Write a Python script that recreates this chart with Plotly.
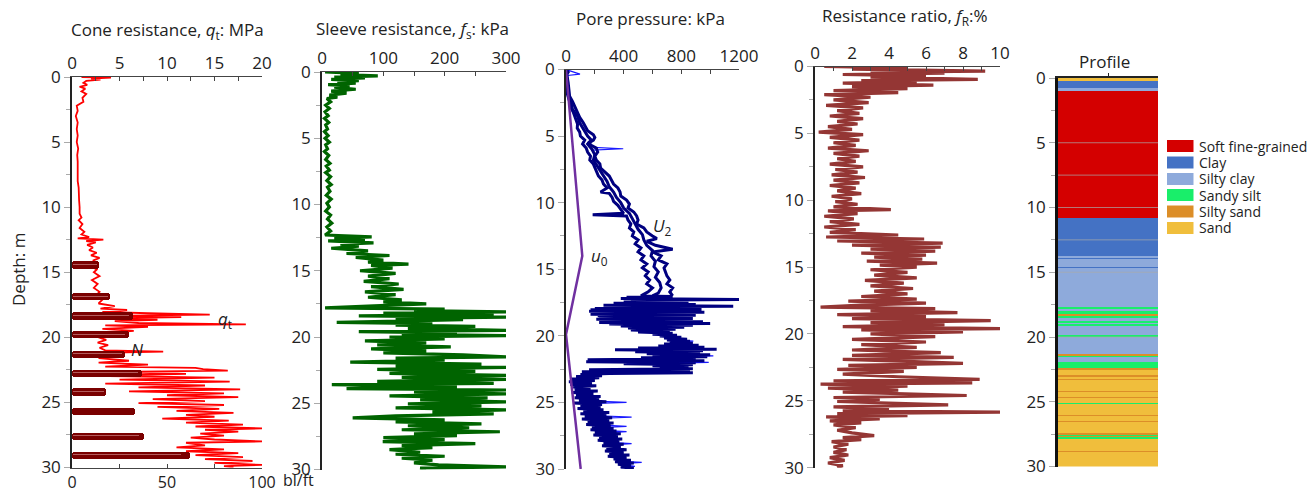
import plotly.graph_objects as go

W, H = 1309, 492

# ---------------- data ----------------
qt_depth = [0.0,0.05,0.12,0.2,0.3,0.45,0.6,0.75,0.9,1.1,1.3,1.6,1.9,2.2,2.6,3.0,3.5,4.0,4.5,5.0,5.5,6.0,6.5,7.0,7.5,8.0,8.5,9.0,9.5,10.0,
            10.5,10.8,11.0,11.3,11.6,11.9,12.1,12.3,12.4,12.5,12.6,12.7,12.9,13.1,13.3,13.5,13.7,13.9,14.1,14.3,14.5,14.8,15.0,15.3,15.6,15.9,
            16.2,16.5,16.8,17.1,17.4,17.6,17.8,17.9,18.05,18.15,18.25,18.35,18.45,18.55,18.65,18.75,18.9,19.0,19.08,19.2,19.35,19.5,19.7,19.85,
            20.0,20.2,20.4,20.6,20.8,21.0,21.1,21.2,21.4,21.6,21.8,21.95,22.1,22.25,22.35,22.45,22.55,22.65,22.8,22.95,23.1,23.25,23.4,23.55,
            23.7,23.85,24.0,24.15,24.3,24.45,24.6,24.75,24.9,25.05,25.2,25.35,25.5,25.65,25.8,25.95,26.1,26.25,26.4,26.55,26.7,26.85,27.0,27.1,
            27.25,27.4,27.55,27.7,27.85,28.0,28.1,28.3,28.45,28.6,28.75,28.9,29.05,29.2,29.35,29.5,29.65,29.8,29.9,30.0]
qt_mpa = [1.0,4.1,2.0,3.0,1.5,1.2,1.6,0.8,1.4,1.0,1.5,1.1,1.2,0.5,0.6,0.4,0.6,0.5,0.6,0.5,0.65,0.55,0.6,0.6,0.65,0.6,0.7,0.7,0.75,0.8,
          0.8,1.0,0.7,1.1,0.8,1.3,1.0,1.8,0.6,3.3,1.5,2.5,1.6,2.2,1.8,2.6,2.0,2.9,2.2,2.8,2.0,2.6,2.3,2.9,2.1,2.7,
          2.3,2.9,2.5,3.2,2.8,4.5,3.0,5.8,3.2,8.0,14.5,4.0,11.5,3.5,9.0,4.5,7.0,18.3,3.5,8.0,3.2,6.5,3.0,5.0,
          2.8,3.6,2.7,3.8,2.9,3.5,9.6,3.0,4.0,2.8,6.0,2.8,8.0,3.5,13.0,13.8,16.4,4.5,12.0,2.0,15.0,5.0,16.6,3.5,
          14.0,7.0,17.7,6.0,16.0,10.0,17.5,8.5,14.0,7.0,16.0,9.0,15.5,11.0,17.0,12.0,15.0,9.5,16.5,12.0,18.0,13.0,20.0,14.0,
          17.5,13.5,16.0,12.5,15.0,20.0,12.0,14.0,11.0,16.0,12.0,17.5,13.0,18.0,14.0,19.0,15.0,20.0,16.0,17.0]

n_depth = [14.45, 16.87, 18.36, 19.8, 21.3, 22.76, 24.2, 25.7, 27.6, 29.06]
n_blows = [14, 20, 32, 30, 28, 37, 18, 33, 38, 62]

fs_depth = [0.0,0.1,0.2,0.3,0.38,0.45,0.55,0.65,0.75,0.85,0.95,1.05,1.15,1.3,1.45,1.6,1.75,1.9,
            2.0,2.25,2.5,2.75,3.0,3.3,3.5,3.8,4.0,4.3,4.5,4.8,5.0,5.3,5.5,5.8,6.0,6.3,6.6,6.9,7.1,7.4,7.6,7.9,8.2,8.5,8.7,9.0,
            9.3,9.6,9.9,10.2,10.5,10.8,11.1,11.4,11.7,12.0,12.3,
            12.45,12.55,12.65,12.75,12.9,13.0,13.15,13.3,13.5,13.7,13.85,14.0,
            14.2,14.35,14.5,14.6,14.8,15.0,15.2,15.4,15.6,15.8,16.0,16.2,16.4,16.6,16.8,17.0,17.2,17.35,17.5,17.65,17.8,17.9,18.0,18.1,18.2,
            18.3,18.4,18.5,18.6,18.7,18.8,18.9,19.0,19.1,19.2,19.35,19.5,19.6,19.7,19.8,19.9,20.0,20.15,20.3,20.45,20.6,20.75,20.9,21.05,
            21.2,21.35,21.5,21.6,21.75,21.9,22.05,22.2,22.3,22.45,22.6,22.75,22.9,23.05,23.2,23.35,23.5,23.6,23.75,23.9,24.0,24.15,24.3,
            24.45,24.6,24.75,24.9,25.05,25.2,25.35,25.5,25.65,25.8,25.95,26.1,26.25,26.4,26.55,26.7,26.85,27.0,27.15,27.3,27.45,27.6,
            27.75,27.9,28.05,28.2,28.35,28.5,28.7,28.85,29.0,29.15,29.3,29.5,29.65,29.8,29.9,30.0]
fs_kpa = [5,60,30,91,20,70,15,60,25,55,10,45,20,55,15,40,12,25,
          8,14,6,12,5,10,4,11,6,9,4,10,5,12,6,9,4,11,6,13,7,12,6,14,8,15,9,13,
          7,15,8,12,6,14,9,16,8,14,5,
          81,20,70,10,84,30,60,15,75,40,110,55,
          100,75,141,80,115,62,120,75,110,68,125,80,133,70,120,75,130,100,170,85,5,200,150,300,100,
          280,60,300,120,230,90,24,180,120,250,140,300,60,220,130,300,110,200,70,170,90,210,80,170,
          100,230,300,120,200,46,260,120,300,90,250,110,300,130,300,90,280,16,220,40,300,150,300,
          110,270,160,300,140,260,120,300,180,280,120,50,200,120,260,140,240,130,290,150,220,100,
          200,99,250,130,180,110,160,120,200,130,180,150,190,300,160,170]

# Pore pressure u2 (kPa): main navy trace, depth/value pairs
u2_main = [(0.0,0),(0.2,15),(0.4,3),(0.7,8),(1.0,5),(1.4,10),(1.8,8),(2.0,12),(2.3,22),(2.6,30),(2.9,35),(3.2,50),(3.5,62),
           (3.8,70),(4.1,80),(4.4,78),(4.7,95),(5.0,100),(5.3,130),(5.6,115),(5.9,140),(6.2,150),(6.5,170),(6.8,165),(7.1,190),
           (7.4,200),(7.7,215),(8.0,225),(8.3,250),(8.6,260),(8.9,285),(9.2,240),(9.3,300),(9.6,320),(9.9,330),(10.2,360),
           (10.5,380),(10.8,400),(10.9,185),(11.0,420),(11.3,430),(11.6,450),(11.9,440),(12.2,470),(12.5,460),(12.8,500),
           (13.1,480),(13.4,520),(13.7,500),(14.0,540),(14.3,520),(14.6,560),(14.9,530),(15.2,570),(15.5,550),(15.8,580),
           (16.1,560),(16.4,600),(16.7,570),(17.0,520),(17.05,740),(17.1,420),(17.15,700),(17.2,380),(17.28,1200),(17.32,450),
           (17.4,780),(17.45,400),(17.5,850),(17.55,330),(17.65,900),(17.7,260),(17.78,1160),(17.82,300),(17.9,900),(17.95,200),
           (18.0,940),(18.05,170),(18.1,880),(18.15,160),(18.22,960),(18.27,200),(18.33,800),(18.38,170),(18.45,900),(18.5,220),
           (18.57,700),(18.62,230),(18.7,880),(18.75,210),(18.82,820),(18.88,250),(18.95,950),(19.0,230),(19.07,1000),(19.12,300),
           (19.2,880),(19.27,380),(19.35,820),(19.42,430),(19.5,760),(19.57,450),(19.65,720),(19.72,500),(19.8,740),(19.88,600),
           (19.95,770),(20.02,650),(20.1,800),(20.17,680),(20.25,840),(20.32,700),(20.4,860),(20.47,720),(20.55,880),(20.62,680),
           (20.7,920),(20.77,640),(20.85,960),(20.92,500),(21.0,1045),(21.05,340),(21.12,950),(21.2,480),(21.28,930),(21.35,560),
           (21.42,1000),(21.5,600),(21.57,980),(21.65,520),(21.72,900),(21.8,150),(21.87,960),(21.95,140),(22.02,900),(22.1,400),
           (22.18,880),(22.25,600),(22.32,850),(22.4,650),(22.47,880),(22.55,160),(22.62,860),(22.7,110),(22.77,880),(22.82,300),
           (22.9,100),(23.0,250),(23.05,70),(23.15,230),(23.25,40),(23.35,200),(23.45,20),(23.55,180),(23.65,30),(23.75,210),
           (23.85,50),(23.95,170),(24.05,60),(24.15,220),(24.25,40),(24.35,190),(24.45,70),(24.55,240),(24.65,60),(24.75,230),
           (24.85,90),(24.95,280),(25.05,50),(25.15,250),(25.25,100),(25.35,240),(25.45,80),(25.55,260),(25.65,120),(25.75,300),
           (25.85,100),(25.95,280),(26.05,130),(26.15,320),(26.25,110),(26.35,300),(26.45,150),(26.55,330),(26.65,140),(26.75,310),
           (26.85,180),(26.95,330),(27.05,170),(27.15,350),(27.25,200),(27.35,380),(27.45,190),(27.55,360),(27.65,230),(27.75,390),
           (27.85,220),(27.95,370),(28.05,260),(28.15,400),(28.25,250),(28.35,380),(28.45,280),(28.55,420),(28.65,270),(28.75,400),
           (28.85,300),(28.95,440),(29.05,290),(29.15,420),(29.25,330),(29.35,450),(29.45,340),(29.55,470),(29.65,360),(29.75,450),
           (29.85,380),(29.95,470),(30.0,420)]
# other strands of the u2 band (0-17 m)
u2_band = [(0.0,0),(0.5,10),(1.0,15),(1.5,20),(2.0,25),(2.4,45),(2.8,60),(3.2,75),(3.6,95),(4.0,120),(4.3,135),(4.6,150),
           (4.9,190),(5.1,200),(5.3,190),(5.5,160),(5.7,175),(5.9,210),(6.2,220),(6.5,200),(6.8,210),(7.1,235),(7.4,240),
           (7.7,270),(8.0,300),(8.3,315),(8.6,330),(8.9,360),(9.2,375),(9.5,380),(9.8,420),(10.1,440),(10.4,430),(10.7,470),
           (11.0,490),(11.3,500),(11.6,490),(11.9,540),(12.2,560),(12.5,600),(12.7,630),(12.9,560),(13.2,620),(13.5,740),
           (13.7,600),(14.0,660),(14.3,640),(14.6,700),(14.9,680),(15.2,690),(15.5,700),(15.8,720),(16.1,700),(16.4,740),
           (16.7,720),(17.0,740)]
u2_mid = [(2.0,15),(2.5,35),(3.0,45),(3.5,80),(4.0,95),(4.5,120),(5.0,150),(5.3,175),(5.6,150),(6.0,180),(6.4,200),
          (6.8,190),(7.2,215),(7.6,235),(8.0,265),(8.4,285),(8.8,300),(9.2,330),(9.6,350),(10.0,380),(10.4,400),(10.8,440),
          (11.2,460),(11.6,480),(12.0,500),(12.4,530),(12.8,540),(13.2,560),(13.6,600),(14.0,590),(14.4,620),(14.8,610),
          (15.2,640),(15.6,620),(16.0,650),(16.4,660),(16.8,640),(17.0,600)]
u2_main_depth = [p[0] for p in u2_main]
u2_main_kpa = [p[1] for p in u2_main]
u2_band_depth = [p[0] for p in u2_band]
u2_band_kpa = [p[1] for p in u2_band]
u2_mid_depth = [p[0] for p in u2_mid]
u2_mid_kpa = [p[1] for p in u2_mid]

# thin blue spikes (segments separated by None)
u2thin_depth = [0.0,0.35,0.45,None,5.85,5.95,6.05,None,20.3,20.4,20.5,None,21.4,21.5,21.6,None,21.9,22.0,22.1,None,
                24.9,25.0,25.1,None,26.0,26.1,26.2,None,26.7,26.8,26.9,None,27.1,27.2,27.3,None,28.0,28.1,28.2,None,
                28.5,28.6,28.7,None,29.4,29.5,29.6,None,29.7,29.8,29.9]
u2thin_kpa = [0,97,10,None,190,397,180,None,720,883,720,None,650,1022,600,None,500,990,420,None,
              200,420,150,None,230,455,200,None,260,420,230,None,250,420,240,None,300,455,280,None,
              300,365,320,None,360,525,380,None,420,478,380]

u0_depth = [0, 14.0, 19.9, 30.0]
u0_kpa = [0, 113, 0, 102]

fr_depth = [0.0,0.1,0.2,0.34,0.42,0.5,0.6,0.7,0.8,0.96,1.05,1.15,1.25,1.4,1.5,1.65,1.8,1.95,2.1,2.3,2.5,2.7,2.9,3.1,3.3,3.5,3.7,
            3.9,4.1,4.3,4.5,4.7,4.9,5.1,5.3,5.5,5.7,5.9,6.1,6.3,6.5,6.7,6.9,7.1,7.3,7.5,7.7,7.9,8.1,8.3,8.5,8.7,8.9,9.1,9.3,9.5,
            9.7,9.9,10.1,10.3,10.5,10.7,10.8,11.0,11.2,11.4,11.6,11.8,12.0,12.2,12.4,12.6,12.75,12.9,13.05,13.2,13.35,13.5,13.65,
            13.8,13.95,14.1,14.25,14.4,14.55,14.7,14.85,15.0,15.2,15.4,15.6,15.8,16.0,16.2,16.4,16.6,16.8,17.0,17.2,17.4,17.55,
            17.7,17.85,18.0,18.1,18.25,18.4,18.55,18.7,18.85,19.0,19.15,19.3,19.45,19.6,19.7,19.85,20.0,20.2,20.4,20.6,20.8,21.0,
            21.2,21.4,21.6,21.75,21.9,22.05,22.2,22.35,22.5,22.65,22.8,23.0,23.2,23.4,23.5,23.65,23.75,23.9,24.05,24.2,24.35,24.6,
            24.75,24.9,25.05,25.3,25.45,25.6,25.75,25.85,25.95,26.1,26.2,26.35,26.5,26.65,26.8,27.0,27.2,27.4,27.6,27.75,27.9,28.05,
            28.25,28.45,28.65,28.85,29.05,29.25,29.45,29.65,29.85,30.0]
fr_pct = [0.5,5.0,2.0,9.2,3.0,7.0,1.5,6.0,3.0,8.8,2.5,5.5,1.5,6.4,2.0,5.0,1.0,4.5,0.5,3.0,1.0,2.9,0.6,2.6,1.2,2.4,0.8,
          2.6,1.2,2.3,0.7,2.0,0.2,2.6,0.8,2.4,1.0,2.2,0.7,2.9,1.0,2.4,1.2,2.2,0.8,2.6,1.1,2.3,0.9,2.7,1.0,2.4,0.8,2.2,1.2,2.5,
          0.9,2.0,1.1,2.3,1.0,4.1,0.7,2.3,0.5,2.1,0.8,2.4,0.5,2.2,0.8,4.5,0.6,5.9,1.2,6.9,2.0,6.8,3.0,
          6.5,2.5,6.0,3.2,5.8,2.8,6.6,3.5,5.5,3.0,5.0,3.2,5.5,2.7,4.8,3.0,5.3,3.2,5.0,2.5,5.5,1.8,
          6.0,2.5,0.3,6.5,3.0,7.7,1.2,6.0,2.0,9.5,3.0,7.0,1.5,10.0,2.5,8.0,3.0,6.5,2.0,6.0,2.5,5.5,
          2.0,6.8,2.0,7.5,1.5,5.0,8.0,1.8,5.5,1.2,4.8,1.5,4.5,8.9,1.0,8.5,0.3,5.0,0.7,4.5,1.5,8.2,
          1.0,3.5,1.2,7.2,1.0,4.0,1.5,10.0,1.2,5.0,0.6,3.5,0.8,2.5,1.0,2.2,1.2,2.0,3.2,1.5,2.5,0.9,
          1.8,1.0,1.7,1.0,1.8,0.8,1.6,0.7,1.5,1.2]

soil_names = ["Soft fine-grained", "Clay", "Silty clay", "Sandy silt", "Silty sand", "Sand"]
soil_colors = ["#d40000", "#4472c4", "#8eaadb", "#19ee6a", "#dc8e28", "#f0be3c"]

layer_top = [0.0,0.2,0.8,0.98,10.8,13.8,13.9,14.0,14.6,14.7,17.7,17.8,17.97,18.25,18.35,18.45,18.5,18.8,18.85,19.05,19.15,19.9,
             19.95,21.35,21.42,21.5,21.95,22.4,22.55,22.75,22.85,22.95,23.1,23.2,23.35,24.2,24.27,24.6,24.7,25.1,25.2,25.85,25.92,
             26.0,26.07,26.5,26.6,27.4,27.55,27.65,27.72,27.9,28.8,28.87]
layer_bottom = layer_top[1:] + [30.0]
layer_soil = ["Sand","Clay","Silty clay","Soft fine-grained","Clay","Silty clay","Clay","Silty clay","Clay","Silty clay",
              "Sandy silt","Silty clay","Sandy silt","Silty sand","Silty clay","Sandy silt","Silty clay","Sandy silt","Silty clay",
              "Sandy silt","Silty clay","Sandy silt","Silty clay","Silty sand","Sandy silt","Silty clay","Sandy silt","Silty sand",
              "Sand","Silty sand","Sand","Silty sand","Sand","Silty sand","Sand","Silty sand","Sand","Silty sand","Sand","Sandy silt",
              "Sand","Silty sand","Sand","Silty sand","Sand","Silty sand","Sand","Silty sand","Sandy silt","Silty sand","Sandy silt",
              "Sand","Silty sand","Sand"]
profile_marks = [5, 7.5, 10, 12.5, 15, 20]

# ---------------- helpers ----------------
def xd(a, b):
    return [a / W, b / W]

def yd(top, bottom):
    return [1 - bottom / H, 1 - top / H]

FONT = "Open Sans, Noto Sans, sans-serif"
TICKF = dict(family=FONT, size=17, color="#222")

fig = go.Figure()

# Panel 1: cone resistance + N
fig.add_trace(go.Scatter(x=qt_mpa, y=qt_depth, mode="lines", line=dict(color="#ff0000", width=1.8),
                         xaxis="x", yaxis="y"))
fig.add_trace(go.Bar(x=n_blows, y=n_depth, orientation="h", width=0.56, base=0,
                     marker=dict(color="#7a0000", cornerradius=3, line=dict(width=0)),
                     xaxis="x2", yaxis="y"))
fig.add_trace(go.Bar(x=[v * 0.92 for v in n_blows], y=[d - 0.04 for d in n_depth], orientation="h", width=0.07, base=0.5,
                     marker=dict(color="rgba(205,130,130,0.7)", line=dict(width=0)),
                     xaxis="x2", yaxis="y"))

# Panel 2: sleeve
fig.add_trace(go.Scatter(x=fs_kpa, y=fs_depth, mode="lines", line=dict(color="#006400", width=3.2),
                         xaxis="x3", yaxis="y2"))

# Panel 3: pore pressure
fig.add_trace(go.Scatter(x=u2thin_kpa, y=u2thin_depth, mode="lines", line=dict(color="#1a1aff", width=1.2),
                         connectgaps=False, xaxis="x4", yaxis="y3"))
for dd, vv in ((u2_band_depth, u2_band_kpa), (u2_mid_depth, u2_mid_kpa), (u2_main_depth, u2_main_kpa)):
    fig.add_trace(go.Scatter(x=vv, y=dd, mode="lines", line=dict(color="#000080", width=3),
                             xaxis="x4", yaxis="y3"))
fig.add_trace(go.Scatter(x=u0_kpa, y=u0_depth, mode="lines", line=dict(color="#7030a0", width=2.5),
                         xaxis="x4", yaxis="y3"))

# Panel 4: friction ratio
fig.add_trace(go.Scatter(x=fr_pct, y=fr_depth, mode="lines", line=dict(color="#943634", width=3.2),
                         xaxis="x5", yaxis="y4"))

# Panel 5: profile
for name, col in zip(soil_names, soil_colors):
    tops = [t for t, s in zip(layer_top, layer_soil) if s == name]
    thick = [b - t for t, b, s in zip(layer_top, layer_bottom, layer_soil) if s == name]
    fig.add_trace(go.Bar(x=[0.5] * len(tops), y=thick, base=tops, width=1.0, name=name,
                         marker=dict(color=col, line=dict(width=0)), xaxis="x6", yaxis="y5"))

common_x = dict(showgrid=False, zeroline=False, showline=True, linecolor="#444", linewidth=1, automargin=False,
                ticks="inside", ticklen=4, tickcolor="#444", tickfont=TICKF, side="top", fixedrange=True)
common_y = dict(showgrid=False, zeroline=False, showline=True, linecolor="#222", linewidth=1.5, automargin=False,
                range=[30, 0], tickvals=[0, 5, 10, 15, 20, 25, 30], ticks="outside", ticklen=6, tickcolor="#aaa",
                minor=dict(dtick=2.5, ticks="outside", ticklen=4, tickcolor="#aaa"),
                tickfont=TICKF, fixedrange=True)

P1 = (72, 262, 77, 467.5)
P2 = (322, 506, 72, 469.5)
P3 = (566, 739, 69.5, 469)
P4 = (815, 1000, 66.5, 467.7)
P5 = (1058, 1158, 78, 466.5)

fig.update_layout(
    width=W, height=H, margin=dict(l=0, r=0, t=0, b=0, pad=0, autoexpand=False),
    paper_bgcolor="white", plot_bgcolor="rgba(0,0,0,0)",
    showlegend=False, barmode="overlay", bargap=0,
    font=dict(family=FONT, size=17, color="#222"),
    xaxis=dict(**common_x, domain=xd(P1[0], P1[1]), anchor="y", range=[0, 20],
               tickvals=[0, 5, 10, 15, 20], minor=dict(dtick=2.5, ticks="inside", ticklen=4, tickcolor="#444")),
    xaxis2=dict(showgrid=False, zeroline=False, showline=True, linecolor="#444", linewidth=1, automargin=False,
                ticks="inside", ticklen=4, tickcolor="#444", tickfont=dict(family=FONT, size=16, color="#222"),
                side="bottom", overlaying="x", anchor="y", range=[0, 100], tickvals=[0, 50, 100],
                minor=dict(dtick=25, ticks="inside", ticklen=4, tickcolor="#444"), fixedrange=True),
    yaxis=dict(**common_y, domain=yd(P1[2], P1[3]), anchor="x"),
    xaxis3=dict(**common_x, domain=xd(P2[0], P2[1]), anchor="y2", range=[0, 300],
                tickvals=[0, 100, 200, 300], minor=dict(dtick=50, ticks="inside", ticklen=4, tickcolor="#444")),
    yaxis2=dict(**common_y, domain=yd(P2[2], P2[3]), anchor="x3"),
    xaxis4=dict(**common_x, domain=xd(P3[0], P3[1]), anchor="y3", range=[0, 1200],
                tickvals=[0, 400, 800, 1200], minor=dict(dtick=200, ticks="inside", ticklen=4, tickcolor="#444")),
    yaxis3=dict(**common_y, domain=yd(P3[2], P3[3]), anchor="x4"),
    xaxis5=dict(**common_x, domain=xd(P4[0], P4[1]), anchor="y4", range=[0, 10],
                tickvals=[0, 2, 4, 6, 8, 10], minor=dict(dtick=1, ticks="inside", ticklen=4, tickcolor="#444")),
    yaxis4=dict(**common_y, domain=yd(P4[2], P4[3]), anchor="x5"),
    xaxis6=dict(showgrid=False, zeroline=False, showline=True, linecolor="#222", linewidth=2, automargin=False,
                side="top", anchor="y5", range=[0, 1], tickvals=[0.5], showticklabels=False,
                ticks="outside", ticklen=3, tickcolor="#222", domain=xd(P5[0], P5[1]), fixedrange=True),
    yaxis5=dict(**{**common_y, "linewidth": 2.5, "linecolor": "#111"}, domain=yd(P5[2], P5[3]), anchor="x6"),
)

# Faint separators in profile
for d in profile_marks:
    fig.add_shape(type="line", xref="x6", yref="y5", x0=0, x1=1, y0=d, y1=d,
                  line=dict(color="rgba(170,170,170,0.7)", width=1), layer="above")

# Titles / labels
def ann(text, x, y, size=17, angle=0, xanchor="center"):
    fig.add_annotation(text=text, x=x / W, y=1 - y / H, xref="paper", yref="paper", showarrow=False,
                       font=dict(family=FONT, size=size, color="#222"), textangle=angle,
                       xanchor=xanchor, yanchor="middle")

ann("Cone resistance, <i>q</i><sub>t</sub>: MPa", 167, 31)
ann("Sleeve resistance, <i>f</i><sub>s</sub>: kPa", 412, 29)
ann("Pore pressure: kPa", 650, 19)
ann("Resistance ratio, <i>f</i><sub>R</sub>:%", 905, 17)
ann("Profile", 1104, 62)
ann("Depth: m", 18, 270, angle=-90)
ann("bl/ft", 281, 480, size=16, xanchor="left")
ann("<i>q</i><sub>t</sub>", 225, 319)
ann("<i>N</i>", 137, 349)
ann("<i>U</i><sub>2</sub>", 663, 226)
ann("<i>u</i><sub>0</sub>", 599, 256)

# Legend for profile
leg_y = [146, 162.5, 179, 195, 211.5, 228]
for name, col, yy in zip(soil_names, soil_colors, leg_y):
    fig.add_shape(type="rect", xref="paper", yref="paper", x0=1167 / W, x1=1193.5 / W,
                  y0=1 - (yy + 6) / H, y1=1 - (yy - 6) / H, fillcolor=col, line=dict(width=0))
    fig.add_annotation(text=name, x=1197 / W, y=1 - yy / H, xref="paper", yref="paper", showarrow=False,
                       xanchor="left", yanchor="middle", font=dict(family=FONT, size=14, color="#222"))

fig.write_html("out.html")
